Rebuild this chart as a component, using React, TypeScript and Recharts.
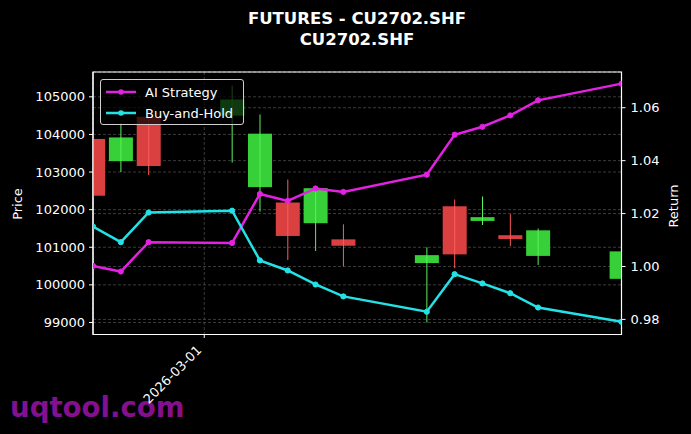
import React from 'react';
import { ComposedChart, Bar, Line, XAxis, YAxis, CartesianGrid, ReferenceArea } from 'recharts';

// trading days shown on the chart
const dates = [
  '2026-02-25', '2026-02-26', '2026-02-27', '2026-03-02', '2026-03-03', '2026-03-04', '2026-03-05',
  '2026-03-06', '2026-03-09', '2026-03-10', '2026-03-11', '2026-03-12', '2026-03-13', '2026-03-16',
];
const opens = [103880, 103290, 104470, 104500, 102600, 102190, 101640, 101210, 100580, 102090, 101700, 101320, 100770, 100160];
const closes = [102370, 103920, 103160, 104930, 104020, 101300, 102570, 101040, 100790, 100810, 101800, 101220, 101450, 100890];
const highs = [104000, 104300, 104650, 105300, 104530, 102800, 102600, 101610, 101000, 102270, 102350, 101880, 101500, 100950];
const lows = [102300, 103000, 102920, 103250, 101950, 100660, 100900, 100490, 99000, 100440, 101590, 101030, 100530, 100100];

const aiStrategy = [1.0002, 0.9981, 1.0092, 1.0089, 1.0274, 1.0248, 1.0295, 1.0282, 1.0347, 1.0498, 1.0528, 1.0571, 1.0628, 1.0691];
const buyAndHold = [1.0151, 1.0092, 1.0204, 1.0211, 1.0023, 0.9985, 0.9932, 0.9887, 0.9829, 0.9971, 0.9936, 0.9899, 0.9845, 0.9791];

const priceTicks = [99000, 100000, 101000, 102000, 103000, 104000, 105000];
const returnTicks = [0.98, 1.0, 1.02, 1.04, 1.06];
const dateTicks = ['2026-03-01'];

const seriesNames = ['AI Strategy', 'Buy-and-Hold'];
const seriesColors = ['#e221e2', '#22e2e6'];

const toTime = (d: string) => {
  const [y, m, dd] = d.split('-').map(Number);
  return Date.UTC(y, m - 1, dd);
};
const fmtDate = (t: number) => new Date(t).toISOString().slice(0, 10);

const data = dates.map((d, i) => ({
  t: toTime(d),
  range: [lows[i], highs[i]],
  open: opens[i],
  close: closes[i],
  ai: aiStrategy[i],
  bh: buyAndHold[i],
}));

const FONT = '"DejaVu Sans", sans-serif';

const Candle = (props: any) => {
  const { x, y, width, height, payload } = props;
  const top = Math.min(y, y + height);
  const bot = Math.max(y, y + height);
  const [low, high] = payload.range;
  const toY = (v: number) => top + ((high - v) / (high - low)) * (bot - top);
  const up = payload.close >= payload.open;
  const y1 = toY(Math.max(payload.open, payload.close));
  const y2 = toY(Math.min(payload.open, payload.close));
  const cx = x + width / 2;
  return (
    <g>
      <rect x={x} y={y1} width={width} height={Math.max(y2 - y1, 1)} fill={up ? '#38d038' : '#da4040'} />
      <line x1={cx} x2={cx} y1={top} y2={bot} stroke={up ? '#5cf05c' : '#ff5a5a'} strokeWidth={1} />
    </g>
  );
};

const DateTick = (props: any) => {
  const { x, y, payload } = props;
  return (
    <text
      x={x - 2}
      y={y + 11}
      transform={`rotate(-45, ${x - 2}, ${y + 11})`}
      textAnchor="end"
      fill="#fff"
      fontSize={13}
      fontFamily={FONT}
    >
      {fmtDate(payload.value)}
    </text>
  );
};

export default function App() {
  const W = 691;
  const H = 434;
  return (
    <div style={{ position: 'relative', width: W, height: H, background: '#000', overflow: 'hidden' }}>
      <style>{`body{margin:0;background:#000}`}</style>
      <svg width={W} height={H} style={{ position: 'absolute', left: 0, top: 0 }}>
        <text x={10} y={417} fill="#84108f" fontSize={27.6} fontWeight="bold" fontFamily={FONT}>
          uqtool.com
        </text>
      </svg>
      <div style={{ position: 'absolute', left: 0, top: 0 }}>
        <ComposedChart width={W} height={H} data={data} margin={{ top: 72, right: 0, bottom: 0, left: 0 }}>
          <CartesianGrid xAxisId="x" yAxisId="left" stroke="#4a4a4a" strokeDasharray="3 2" strokeWidth={0.8} />
          <CartesianGrid xAxisId="x" yAxisId="right" vertical={false} stroke="#4a4a4a" strokeDasharray="3 2" strokeWidth={0.8} />
          <XAxis
            xAxisId="x"
            dataKey="t"
            type="number"
            scale="linear"
            domain={[toTime(dates[0]), toTime(dates[dates.length - 1])]}
            allowDataOverflow
            ticks={dateTicks.map(toTime)}
            tick={<DateTick />}
            height={99.5}
            stroke="#fff"
            tickSize={3.5}
            tickMargin={2}
          />
          <YAxis
            yAxisId="left"
            orientation="left"
            width={93}
            domain={[98680, 105660]}
            ticks={priceTicks}
            allowDataOverflow
            stroke="#fff"
            tickSize={4}
            tickMargin={4}
            tick={{ fill: '#fff', fontSize: 13, fontFamily: FONT }}
          />
          <YAxis
            yAxisId="right"
            orientation="right"
            width={69.5}
            domain={[0.9743, 1.0735]}
            ticks={returnTicks}
            allowDataOverflow
            tickFormatter={(v: number) => v.toFixed(2)}
            stroke="#fff"
            tickSize={4}
            tickMargin={5}
            tick={{ fill: '#fff', fontSize: 13, fontFamily: FONT }}
          />
          <Bar xAxisId="x" yAxisId="left" dataKey="range" barSize={24} shape={<Candle />} isAnimationActive={false} />
          <Line
            xAxisId="x"
            yAxisId="right"
            dataKey="ai"
            stroke={seriesColors[0]}
            strokeWidth={2.5}
            dot={{ r: 2.6, fill: seriesColors[0], stroke: seriesColors[0], strokeWidth: 1 }}
            isAnimationActive={false}
          />
          <Line
            xAxisId="x"
            yAxisId="right"
            dataKey="bh"
            stroke={seriesColors[1]}
            strokeWidth={2.5}
            dot={{ r: 2.6, fill: seriesColors[1], stroke: seriesColors[1], strokeWidth: 1 }}
            isAnimationActive={false}
          />
          <ReferenceArea
            xAxisId="x"
            yAxisId="left"
            x1={toTime(dates[0])}
            x2={toTime(dates[dates.length - 1])}
            y1={98680}
            y2={105660}
            fill="none"
            stroke="#fff"
            strokeWidth={1.2}
            fillOpacity={0}
          />
        </ComposedChart>
      </div>
      <svg width={W} height={H} style={{ position: 'absolute', left: 0, top: 0, pointerEvents: 'none' }}>
        <text x={357} y={24} textAnchor="middle" fill="#fff" fontSize={16.5} fontWeight="bold" fontFamily={FONT}>
          FUTURES - CU2702.SHF
        </text>
        <text x={357} y={45} textAnchor="middle" fill="#fff" fontSize={16.5} fontWeight="bold" fontFamily={FONT}>
          CU2702.SHF
        </text>
        <text x={22} y={204} transform="rotate(-90, 22, 204)" textAnchor="middle" fill="#fff" fontSize={13} fontFamily={FONT}>
          Price
        </text>
        <text x={678} y={206} transform="rotate(-90, 678, 206)" textAnchor="middle" fill="#fff" fontSize={13} fontFamily={FONT}>
          Return
        </text>
      </svg>
      <div
        style={{
          position: 'absolute',
          left: 100,
          top: 79,
          width: 144,
          height: 46,
          boxSizing: 'border-box',
          background: 'rgba(0,0,0,0.72)',
          border: '1px solid #cfcfcf',
          borderRadius: 3,
          fontFamily: FONT,
          fontSize: 13,
          color: '#fff',
        }}
      >
        {seriesNames.map((name, i) => (
          <div key={name} style={{ position: 'absolute', left: 4, top: 3 + i * 21, height: 18, display: 'flex', alignItems: 'center' }}>
            <svg width={32} height={18}>
              <line x1={1} x2={31} y1={9} y2={9} stroke={seriesColors[i]} strokeWidth={2.5} />
              <circle cx={16} cy={9} r={2.8} fill={seriesColors[i]} />
            </svg>
            <span style={{ marginLeft: 8, whiteSpace: 'nowrap' }}>{name}</span>
          </div>
        ))}
      </div>
    </div>
  );
}
